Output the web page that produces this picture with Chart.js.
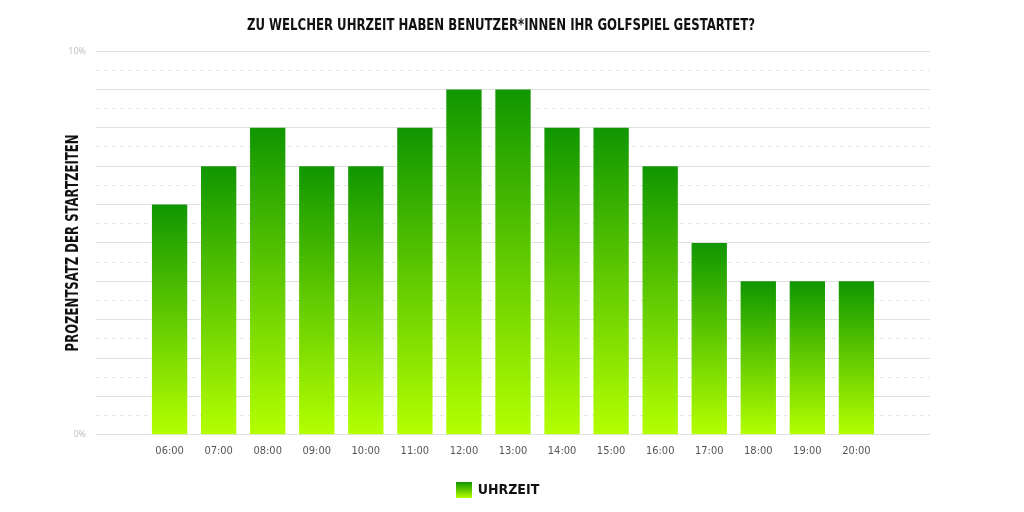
<!DOCTYPE html>
<html>
<head>
<meta charset="utf-8">
<script src="https://cdn.jsdelivr.net/npm/chart.js@4"></script>
<style>
html,body{margin:0;padding:0;background:#fff;}
#wrap{width:1024px;height:512px;position:relative;}
</style>
</head>
<body>
<div id="wrap"><canvas id="c" width="1024" height="512"></canvas></div>
<script>
const hours = ['06:00','07:00','08:00','09:00','10:00','11:00','12:00','13:00','14:00','15:00','16:00','17:00','18:00','19:00','20:00'];
const shares = [6,7,8,7,7,8,9,9,8,8,7,5,4,4,4];
const yTickLabels = {0:'0%', 10:'10%'};
const titleText = 'ZU WELCHER UHRZEIT HABEN BENUTZER*INNEN IHR GOLFSPIEL GESTARTET?';
const yTitle = 'PROZENTSATZ DER STARTZEITEN';
const seriesName = 'UHRZEIT';

const labels = [''].concat(hours, ['']);
const values = [null].concat(shares, [null]);

const COND = '"DejaVu Sans Condensed", sans-serif';

function barGradient(ctx) {
  const chart = ctx.chart;
  const area = chart.chartArea;
  if (!area || ctx.raw == null) return '#4cc000';
  const y = chart.scales.y;
  const top = y.getPixelForValue(ctx.raw);
  const bottom = y.getPixelForValue(0);
  const g = chart.ctx.createLinearGradient(0, top, 0, bottom);
  g.addColorStop(0, '#109600');
  g.addColorStop(1, '#b4ff00');
  return g;
}

const legendSquare = (function(){
  const cv = document.createElement('canvas');
  cv.width = 16; cv.height = 16;
  const c = cv.getContext('2d');
  const g = c.createLinearGradient(0,0,0,16);
  g.addColorStop(0,'#109600'); g.addColorStop(1,'#b4ff00');
  c.fillStyle = g; c.fillRect(0,0,16,16);
  return cv;
})();

// condensed text helper: draws text squeezed to a target width
function drawCondensed(c, text, font, targetWidth) {
  c.font = font;
  const w = c.measureText(text).width;
  const sx = Math.min(1, targetWidth / w);
  c.scale(sx, 1);
  c.fillText(text, 0, 0);
}

const textPlugin = {
  id: 'condensedTexts',
  afterDraw(chart) {
    const a = chart.chartArea;
    const c = chart.ctx;
    // chart title
    c.save();
    c.translate(501, 26);
    c.fillStyle = '#111';
    c.textAlign = 'center';
    c.textBaseline = 'middle';
    drawCondensed(c, titleText, 'bold 16px ' + COND, 508);
    c.restore();
    // y axis title
    c.save();
    c.translate(73, (a.top + a.bottom) / 2);
    c.rotate(-Math.PI / 2);
    c.fillStyle = '#111';
    c.textAlign = 'center';
    c.textBaseline = 'middle';
    drawCondensed(c, yTitle, 'bold 18px ' + COND, 217);
    c.restore();
  }
};

new Chart(document.getElementById('c'), {
  type: 'bar',
  data: {
    labels: labels,
    datasets: [{
      label: seriesName,
      data: values,
      backgroundColor: barGradient,
      borderWidth: 0,
      barPercentage: 0.72,
      categoryPercentage: 1.0
    }]
  },
  plugins: [textPlugin],
  options: {
    responsive: false,
    animation: false,
    layout: { padding: { left: 66, right: 94, top: 51, bottom: 5 } },
    plugins: {
      title: { display: false },
      legend: {
        position: 'bottom',
        labels: {
          usePointStyle: true,
          pointStyle: legendSquare,
          color: '#111',
          font: { family: COND, size: 14, weight: 'bold' },
          padding: 23
        }
      },
      tooltip: { enabled: false }
    },
    scales: {
      x: {
        grid: { display: false },
        border: { display: false },
        ticks: {
          color: '#555',
          font: { family: COND, size: 11 },
          padding: 2,
          maxRotation: 0,
          autoSkip: false
        }
      },
      y: {
        min: 0,
        max: 10,
        afterFit: function(scale) { scale.width = 30; },
        ticks: {
          stepSize: 0.5,
          autoSkip: false,
          color: '#bbb',
          font: { family: '"Open Sans", sans-serif', size: 9 },
          padding: 10,
          callback: function(v) { return yTickLabels[v] !== undefined ? yTickLabels[v] : ''; }
        },
        grid: {
          color: function(ctx) {
            if (!ctx.tick) return '#e2e2e2';
            return Number.isInteger(ctx.tick.value) ? '#e0e0e0' : '#e6e6e6';
          },
          lineWidth: 1,
          drawTicks: false
        },
        border: {
          display: false,
          dash: function(ctx) {
            if (!ctx.tick) return [];
            return Number.isInteger(ctx.tick.value) ? [] : [4, 4];
          }
        }
      }
    }
  }
});
</script>
</body>
</html>
